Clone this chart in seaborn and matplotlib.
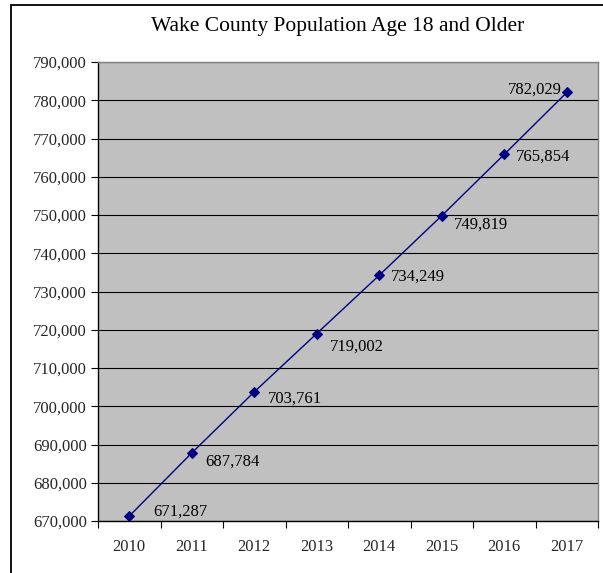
import matplotlib
matplotlib.use("Agg")
import matplotlib.pyplot as plt
import seaborn as sns
import pandas as pd
import numpy as np
from matplotlib.ticker import FuncFormatter, FixedLocator
from matplotlib.patches import Rectangle

years = ["2010", "2011", "2012", "2013", "2014", "2015", "2016", "2017"]
population = [671287, 687784, 703761, 719002, 734249, 749819, 765854, 782029]
label_offsets = [(24, 4), (14, -9), (14, -7), (13, -13), (12, -1), (12, -9), (12, -2), (-5, 3)]

sns.set_theme(style="white")
plt.rcParams['font.family'] = ['Liberation Serif', 'DejaVu Serif']

df = pd.DataFrame({"pos": np.arange(len(years)), "year": years, "pop": population})

fig = plt.figure(figsize=(6.03, 5.73), dpi=100)
fig.patch.set_facecolor("white")
ax = fig.add_axes([98/603, 1-521/573, 500/603, (521-62)/573])
ax.set_facecolor("#C0C0C0")

sns.lineplot(data=df, x="pos", y="pop", ax=ax, color="#000080", linewidth=1.0,
             marker="D", markersize=5.5, markeredgecolor="#000080", markerfacecolor="#000080")

ax.set_xlim(-0.5, len(years) - 0.5)
ax.set_ylim(670000, 790000)
ax.set_yticks(np.arange(670000, 790001, 10000))
ax.yaxis.set_major_formatter(FuncFormatter(lambda v, p: f"{int(v):,}"))
ax.yaxis.grid(True, color="black", linewidth=0.8)
ax.set_axisbelow(True)

ax.set_xticks(df["pos"])
ax.set_xticklabels(years)
ax.xaxis.set_minor_locator(FixedLocator(np.arange(-0.5, len(years), 1.0)))
ax.tick_params(axis="x", which="major", length=0, pad=13, labelsize=12)
ax.tick_params(axis="x", which="minor", length=5, width=0.8, color="black", direction="out", bottom=True)
ax.tick_params(axis="y", which="major", length=5, width=0.8, color="black", direction="out", left=True, labelsize=12, pad=3)
ax.set_xlabel("")
ax.set_ylabel("")

for s in ["top", "right"]:
    ax.spines[s].set_color("#808080")
    ax.spines[s].set_linewidth(1.0)
for s in ["left", "bottom"]:
    ax.spines[s].set_color("black")
    ax.spines[s].set_linewidth(1.0)

for i, (x, y) in enumerate(zip(df["pos"], population)):
    dx, dy = label_offsets[i]
    ax.annotate(f"{y:,}", (x, y), xytext=(dx, dy), textcoords="offset pixels",
                ha="left" if dx > 0 else "right", va="center", fontsize=12, color="black")

fig.text(338/603, 1-26/573, "Wake County Population Age 18 and Older", ha="center", va="center",
         fontsize=15.5, color="black")

fig.patches.append(Rectangle((11/603, -0.1), 1.2, 1 - 5/573 + 0.1, transform=fig.transFigure,
                             fill=False, edgecolor="black", linewidth=1.3))

fig.savefig("out.png", dpi=100)
